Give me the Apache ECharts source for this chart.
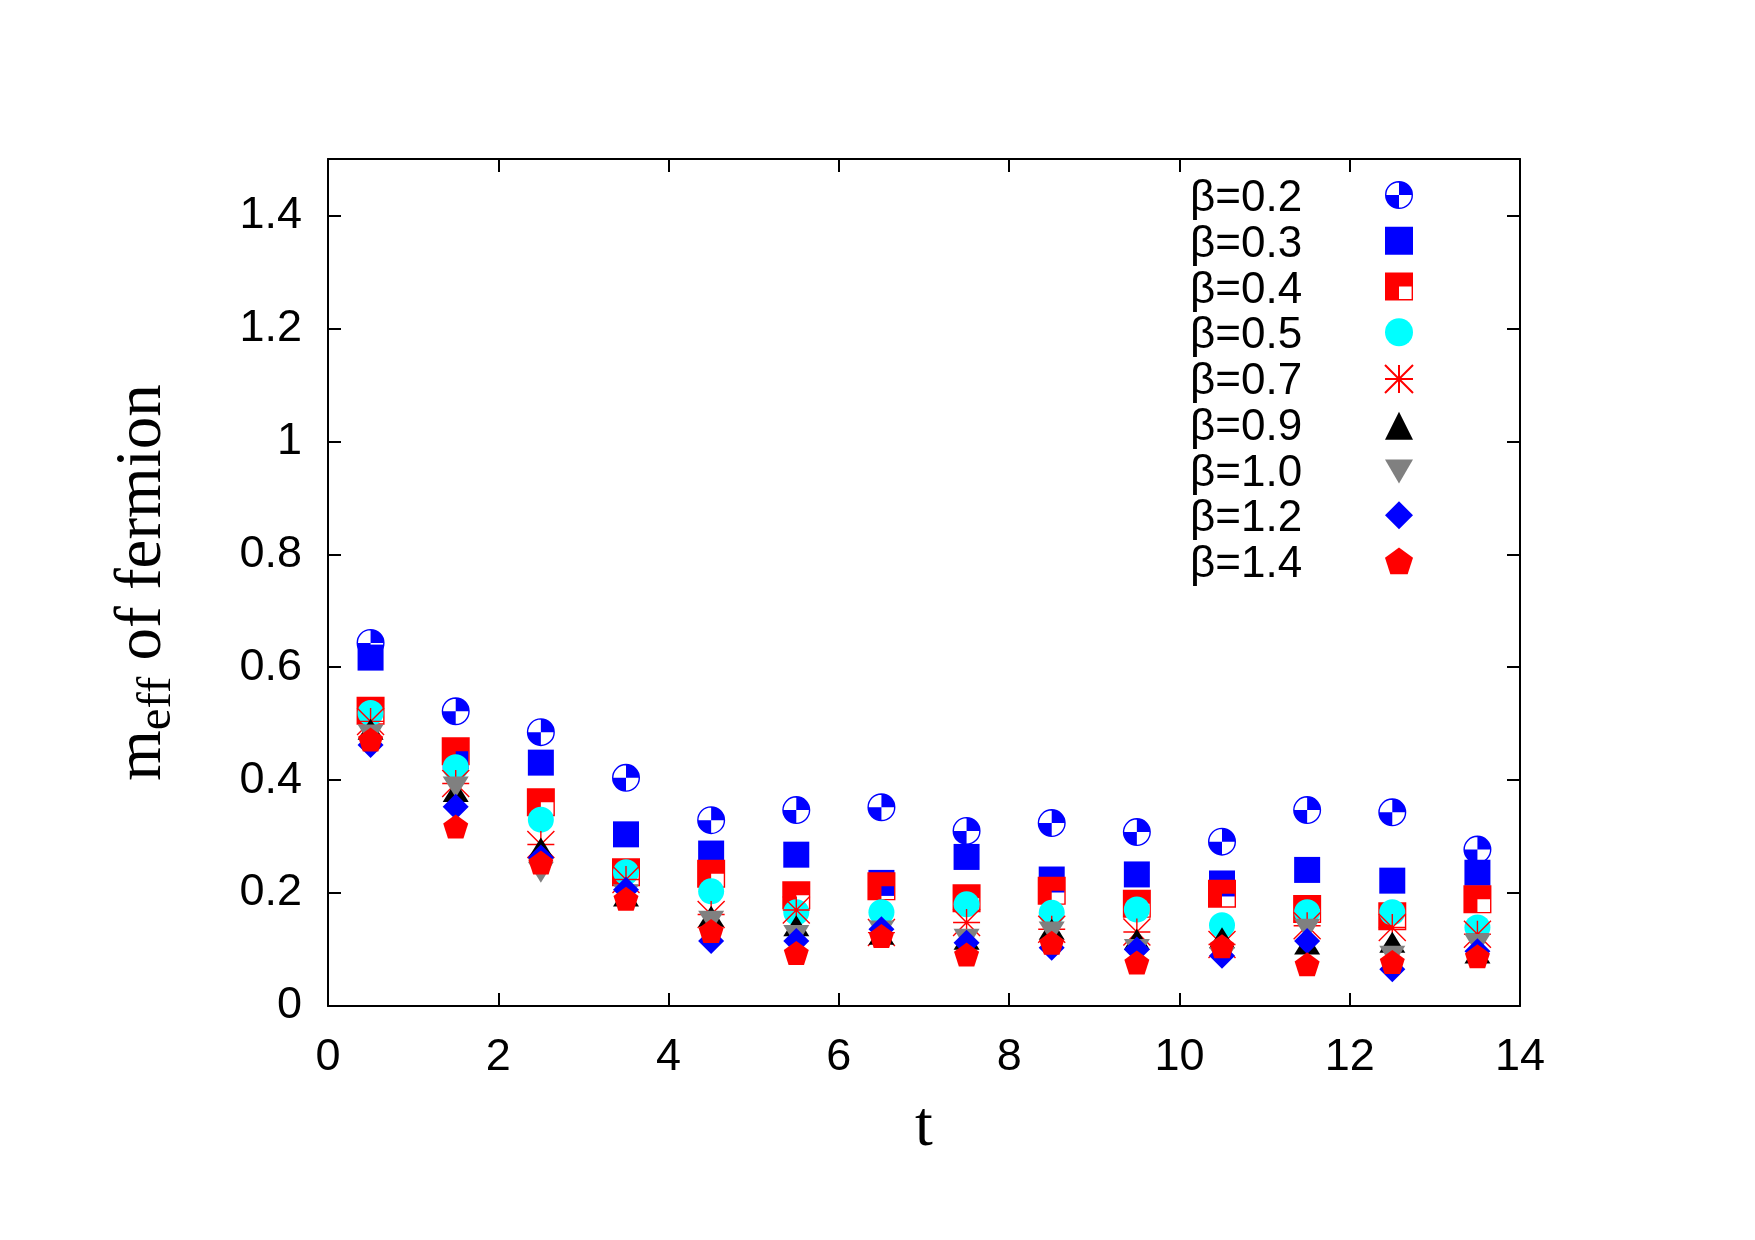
<!DOCTYPE html>
<html>
<head>
	<meta http-equiv="Content-Type" content="text/html;charset=utf-8">
	<title>m_eff of fermion</title>
	<style>
		html, body{
			margin: 0;
			padding: 0;
			background: #fff;
		}
		#chart{
			width: 1755px;
			height: 1240px;
		}
	</style>
</head>
<body>

<div id="chart"></div>

<script src="https://cdn.jsdelivr.net/npm/echarts@6/dist/echarts.min.js"></script>
<script>
	// time slices
	var tValues = [0.5, 1.5, 2.5, 3.5, 4.5, 5.5, 6.5, 7.5, 8.5, 9.5, 10.5, 11.5, 12.5, 13.5];

	var betaNames = ['β=0.2', 'β=0.3', 'β=0.4', 'β=0.5', 'β=0.7', 'β=0.9', 'β=1.0', 'β=1.2', 'β=1.4'];

	// effective mass, one list per beta
	var meffB02 = [0.643, 0.522, 0.485, 0.404, 0.329, 0.347, 0.352, 0.310, 0.324, 0.308, 0.291, 0.347, 0.343, 0.277];
	var meffB03 = [0.617, 0.442, 0.431, 0.304, 0.270, 0.268, 0.218, 0.264, 0.224, 0.233, 0.217, 0.241, 0.222, 0.236];
	var meffB04 = [0.523, 0.451, 0.361, 0.237, 0.234, 0.196, 0.212, 0.191, 0.204, 0.181, 0.199, 0.172, 0.159, 0.189];
	var meffB05 = [0.519, 0.423, 0.330, 0.237, 0.203, 0.166, 0.166, 0.180, 0.165, 0.171, 0.143, 0.166, 0.166, 0.139];
	var meffB07 = [0.504, 0.394, 0.286, 0.224, 0.162, 0.170, 0.130, 0.148, 0.136, 0.131, 0.109, 0.142, 0.139, 0.127];
	var meffB09 = [0.490, 0.380, 0.280, 0.195, 0.159, 0.142, 0.127, 0.118, 0.136, 0.118, 0.121, 0.110, 0.113, 0.094];
	var meffB10 = [0.480, 0.388, 0.237, 0.197, 0.150, 0.125, 0.133, 0.118, 0.131, 0.100, 0.086, 0.136, 0.088, 0.109];
	var meffB12 = [0.462, 0.353, 0.263, 0.206, 0.115, 0.115, 0.136, 0.112, 0.103, 0.100, 0.089, 0.115, 0.065, 0.097];
	var meffB14 = [0.472, 0.318, 0.254, 0.190, 0.133, 0.094, 0.124, 0.091, 0.112, 0.077, 0.106, 0.074, 0.078, 0.088];

	var xTicks = [0, 14, 2];     // min, max, step
	var yTicks = [0, 1.5, 0.2];

	// gnuplot style point shapes
	var QUAD_CIRCLE = 'path://M50 0A50 50 0 1 1 50 100A50 50 0 1 1 50 0Z'
		+ 'M50 5A45 45 0 1 0 50 95A45 45 0 1 0 50 5Z'
		+ 'M50 50L50 0A50 50 0 0 1 100 50Z'
		+ 'M50 50L50 100A50 50 0 0 1 0 50Z';
	var QUAD_SQUARE = 'path://M0 0H100V50H0Z M0 50H50V100H0Z M95 50H100V100H95Z M50 95H100V100H50Z';
	var ASTERISK = 'path://M50 0V100M0 50H100M0 0L100 100M100 0L0 100';
	var TRI_DOWN = 'path://M0 0L100 0L50 85Z';
	var PENTAGON = 'path://M50 0L97.55 34.55L79.39 90.45L20.61 90.45L2.45 34.55Z';

	var marks = [
		{data: meffB02, symbol: QUAD_CIRCLE, size: 28, color: '#0000ff'},
		{data: meffB03, symbol: 'rect', size: 26, color: '#0000ff'},
		{data: meffB04, symbol: QUAD_SQUARE, size: 28, color: '#ff0000'},
		{data: meffB05, symbol: 'circle', size: 26, color: '#00ffff'},
		{data: meffB07, symbol: ASTERISK, size: 27, color: 'transparent', border: '#ff0000'},
		{data: meffB09, symbol: 'triangle', size: [26, 21], color: '#000000'},
		{data: meffB10, symbol: TRI_DOWN, size: [26, 21], color: '#808080'},
		{data: meffB12, symbol: 'diamond', size: 26, color: '#0000ff'},
		{data: meffB14, symbol: PENTAGON, size: [25, 24], color: '#ff0000'}
	];

	function toPoints(list){
		var out = [];
		for(var i = 0; i < tValues.length; i++){
			out.push([tValues[i], list[i]]);
		}
		return out;
	}

	var series = [];
	for(var k = 0; k < marks.length; k++){
		var m = marks[k];
		series.push({
			name: betaNames[k],
			type: 'scatter',
			symbol: m.symbol,
			symbolSize: m.size,
			itemStyle: {
				color: m.color,
				opacity: 1,
				borderColor: m.border || m.color,
				borderWidth: m.border ? 1.4 : 0
			},
			emphasis: {disabled: true},
			data: toPoints(m.data)
		});
	}

	// frame: every side gets a line and inward ticks
	function frameLine(){
		return {show: true, onZero: false, lineStyle: {color: '#000', width: 2}};
	}
	function frameTick(){
		return {show: true, inside: true, length: 13, lineStyle: {color: '#000', width: 2}};
	}
	var labelFont = {fontSize: 45, fontFamily: 'Liberation Sans', color: '#000'};

	var option = {
		animation: false,
		backgroundColor: '#fff',
		grid: {left: 328, right: 235, top: 159, bottom: 234},
		legend: [
			{
				// marker column
				orient: 'vertical',
				left: 1384,
				top: 181,
				padding: 0,
				itemWidth: 28,
				itemHeight: 28,
				itemGap: 17.75,
				selectedMode: false,
				formatter: function(){ return ''; },
				data: betaNames
			},
			{
				// label column
				orient: 'vertical',
				left: 1185,
				top: 177,
				padding: 0,
				icon: 'none',
				itemWidth: 0,
				itemHeight: 44,
				itemGap: 1.75,
				selectedMode: false,
				textStyle: {fontSize: 44, fontFamily: 'Liberation Sans', color: '#000', lineHeight: 44},
				data: betaNames
			}
		],
		xAxis: [
			{
				type: 'value',
				min: xTicks[0], max: xTicks[1], interval: xTicks[2],
				name: 't',
				nameLocation: 'middle',
				nameGap: 90,
				nameTextStyle: {fontSize: 64, fontFamily: 'Liberation Serif', color: '#000'},
				axisLine: frameLine(),
				axisTick: frameTick(),
				axisLabel: Object.assign({margin: 29}, labelFont),
				splitLine: {show: false}
			},
			{
				type: 'value',
				position: 'top',
				min: xTicks[0], max: xTicks[1], interval: xTicks[2],
				axisLine: frameLine(),
				axisTick: frameTick(),
				axisLabel: {show: false},
				splitLine: {show: false}
			}
		],
		yAxis: [
			{
				type: 'value',
				min: yTicks[0], max: yTicks[1], interval: yTicks[2],
				name: '{m|m}{s|eff}{m| of fermion}',
				nameLocation: 'middle',
				nameRotate: 90,
				nameGap: 146,
				nameTextStyle: {
					color: '#000',
					rich: {
						m: {fontSize: 65, fontFamily: 'Liberation Serif', color: '#000'},
						s: {fontSize: 49, fontFamily: 'Liberation Serif', color: '#000', padding: [30, 0, 0, 0]}
					}
				},
				axisLine: frameLine(),
				axisTick: frameTick(),
				axisLabel: Object.assign({margin: 26, showMaxLabel: false}, labelFont),
				splitLine: {show: false}
			},
			{
				type: 'value',
				position: 'right',
				min: yTicks[0], max: yTicks[1], interval: yTicks[2],
				axisLine: frameLine(),
				axisTick: frameTick(),
				axisLabel: {show: false},
				splitLine: {show: false}
			}
		],
		series: series
	};

	var myChart = echarts.init(document.getElementById('chart'));
	myChart.setOption(option);
</script>
</body>
</html>
